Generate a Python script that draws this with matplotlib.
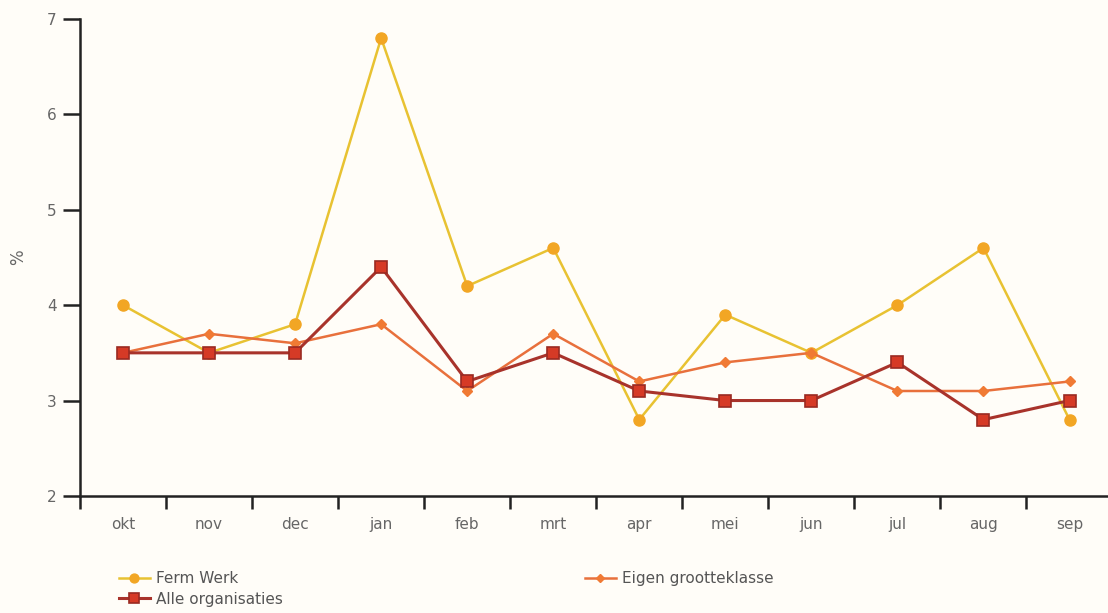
import numpy as np
import matplotlib.pyplot as plt

months = ["okt", "nov", "dec", "jan", "feb", "mrt", "apr", "mei", "jun", "jul", "aug", "sep"]
ferm_werk = [4.0, 3.5, 3.8, 6.8, 4.2, 4.6, 2.8, 3.9, 3.5, 4.0, 4.6, 2.8]
alle_org = [3.5, 3.5, 3.5, 4.4, 3.2, 3.5, 3.1, 3.0, 3.0, 3.4, 2.8, 3.0]
eigen_klasse = [3.5, 3.7, 3.6, 3.8, 3.1, 3.7, 3.2, 3.4, 3.5, 3.1, 3.1, 3.2]

bg = "#fffdf8"
fig = plt.figure(figsize=(11.08, 6.13), dpi=100, facecolor=bg)
ax = fig.add_axes([0.0722, 0.191, 0.928, 0.778], facecolor=bg)

x = np.arange(len(months))
l1, = ax.plot(x, ferm_werk, color="#e8c232", lw=1.8, marker="o", ms=8,
              mfc="#f2a624", mec="#f2a624", label="Ferm Werk", zorder=3)
l3, = ax.plot(x, eigen_klasse, color="#e8703c", lw=1.8, marker="D", ms=5,
              mfc="#f07a34", mec="#f07a34", label="Eigen grootteklasse", zorder=4)
l2, = ax.plot(x, alle_org, color="#a8332b", lw=2.2, marker="s", ms=9,
              mfc="#d63a26", mec="#9a2a22", mew=1.2, label="Alle organisaties", zorder=5)

ax.set_ylim(2, 7)
ax.set_xlim(-0.5, 11.45)
ax.set_yticks([2, 3, 4, 5, 6, 7])
ax.set_xticks(np.arange(-0.5, 11, 1))
ax.set_xticklabels([])
ax.set_xticks(x, minor=True)
ax.set_xticklabels(months, minor=True)
ax.tick_params(axis="x", which="minor", length=0, pad=15, labelsize=11, labelcolor="#666666")
ax.tick_params(axis="x", which="major", direction="out", length=9, width=1.8, color="#222222")
ax.tick_params(axis="y", direction="out", length=12, width=1.8, color="#222222",
               labelsize=11, labelcolor="#666666", pad=5)

for s in ["top", "right"]:
    ax.spines[s].set_visible(False)
for s in ["left", "bottom"]:
    ax.spines[s].set_linewidth(1.8)
    ax.spines[s].set_color("#222222")

ax.set_ylabel("%", fontsize=12, color="#666666", labelpad=14)

fig.legend(handles=[l1, l2, l3], loc="lower left", bbox_to_anchor=(0.095, -0.012),
           ncol=2, frameon=False, fontsize=11, labelcolor="#555555",
           handlelength=2.0, handletextpad=0.4, columnspacing=19.8, labelspacing=0.35,
           markerscale=0.8)

fig.savefig("out.png", dpi=100, facecolor=bg)
